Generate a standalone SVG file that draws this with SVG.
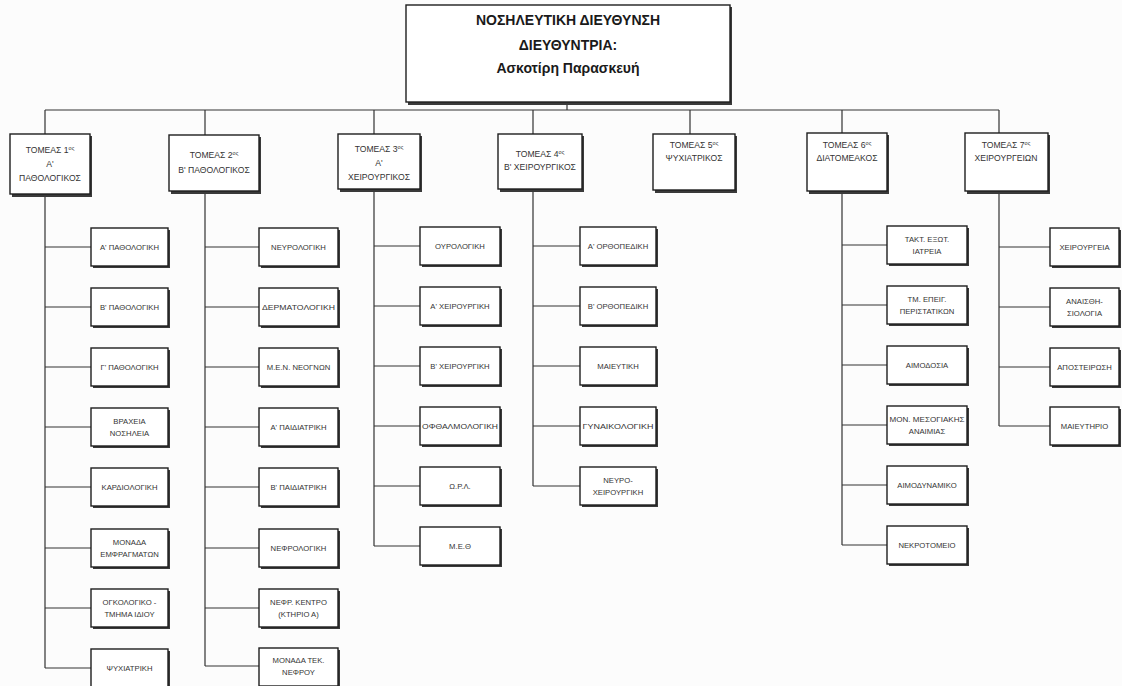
<svg xmlns="http://www.w3.org/2000/svg" width="1122" height="686" viewBox="0 0 1122 686">
<style>
.bg{fill:#fcfcfc}
.box{fill:#ffffff;stroke:#1e1e1e;stroke-width:1.4}
.sh{fill:#3a3a3a}
.t{font-family:"Liberation Sans",Arial,sans-serif;font-size:7.7px;fill:#333;text-anchor:middle}
.s{font-family:"Liberation Sans",Arial,sans-serif;font-size:8.6px;fill:#333;text-anchor:middle}
.h{font-family:"Liberation Sans",Arial,sans-serif;font-size:14px;font-weight:bold;fill:#1a1a1a;text-anchor:middle}
.sup{font-size:5.5px}
.ln{stroke:#333;stroke-width:1.2;fill:none}
</style>
<rect class="bg" x="0" y="0" width="1122" height="686"/>
<g id="connectors">
<path class="ln" d="M567 103V110M45 110H999M45 110V134M205 110V135M374 110V134M533 110V134M690 110V134M842 110V133M999 110V133"/>
<path class="ln" d="M45 195V668M45 247H91M45 307H91M45 367H91M45 427H91M45 487H91M45 548H91M45 608H91M45 668H91"/>
<path class="ln" d="M205 192V666M205 247H259M205 307H259M205 367H259M205 427H259M205 487H259M205 548H259M205 608H259M205 666H259"/>
<path class="ln" d="M374 190V546M374 246H420M374 306H420M374 366H420M374 426H420M374 486H420M374 546H420"/>
<path class="ln" d="M533 190V486M533 246H580M533 306H580M533 366H580M533 426H580M533 486H580"/>
<path class="ln" d="M842 192V545M842 245H887M842 305H887M842 365H887M842 425H887M842 485H887M842 545H887"/>
<path class="ln" d="M999 192V426M999 247H1050M999 307H1050M999 367H1050M999 426H1050"/>
</g>
<g id="director">
<rect class="sh" x="408" y="7" width="324" height="98"/>
<rect class="box" x="406" y="5" width="324" height="97"/>
<text class="h" x="568" y="25">ΝΟΣΗΛΕΥΤΙΚΗ ΔΙΕΥΘΥΝΣΗ</text>
<text class="h" x="568" y="50">ΔΙΕΥΘΥΝΤΡΙΑ:</text>
<text class="h" x="568" y="73">Ασκοτίρη Παρασκευή</text>
</g>
<g id="sector1">
<rect class="sh" x="12" y="136" width="80" height="61"/>
<rect class="box" x="10" y="134" width="80" height="60"/>
<text class="s" x="50" y="153">ΤΟΜΕΑΣ 1<tspan class="sup" dy="-3">ος</tspan></text>
<text class="s" x="50" y="167">Α'</text>
<text class="s" x="50" y="181">ΠΑΘΟΛΟΓΙΚΟΣ</text>
</g>
<g id="sector2">
<rect class="sh" x="171" y="137" width="90" height="57"/>
<rect class="box" x="169" y="135" width="90" height="56"/>
<text class="s" x="214" y="158">ΤΟΜΕΑΣ 2<tspan class="sup" dy="-3">ος</tspan></text>
<text class="s" x="214" y="173">Β' ΠΑΘΟΛΟΓΙΚΟΣ</text>
</g>
<g id="sector3">
<rect class="sh" x="340" y="136" width="82" height="56"/>
<rect class="box" x="338" y="134" width="82" height="55"/>
<text class="s" x="379" y="152">ΤΟΜΕΑΣ 3<tspan class="sup" dy="-3">ος</tspan></text>
<text class="s" x="379" y="166">Α'</text>
<text class="s" x="379" y="180">ΧΕΙΡΟΥΡΓΙΚΟΣ</text>
</g>
<g id="sector4">
<rect class="sh" x="500" y="136" width="84" height="56"/>
<rect class="box" x="498" y="134" width="84" height="55"/>
<text class="s" x="540" y="157">ΤΟΜΕΑΣ 4<tspan class="sup" dy="-3">ος</tspan></text>
<text class="s" x="540" y="170">Β' ΧΕΙΡΟΥΡΓΙΚΟΣ</text>
</g>
<g id="sector5">
<rect class="sh" x="655" y="136" width="82" height="57"/>
<rect class="box" x="653" y="134" width="82" height="56"/>
<text class="s" x="694" y="148">ΤΟΜΕΑΣ 5<tspan class="sup" dy="-3">ος</tspan></text>
<text class="s" x="694" y="161">ΨΥΧΙΑΤΡΙΚΟΣ</text>
</g>
<g id="sector6">
<rect class="sh" x="809" y="135" width="80" height="59"/>
<rect class="box" x="807" y="133" width="80" height="58"/>
<text class="s" x="847" y="148">ΤΟΜΕΑΣ 6<tspan class="sup" dy="-3">ος</tspan></text>
<text class="s" x="847" y="161">ΔΙΑΤΟΜΕΑΚΟΣ</text>
</g>
<g id="sector7">
<rect class="sh" x="967" y="135" width="83" height="59"/>
<rect class="box" x="965" y="133" width="83" height="58"/>
<text class="s" x="1006" y="148">ΤΟΜΕΑΣ 7<tspan class="sup" dy="-3">ος</tspan></text>
<text class="s" x="1006" y="161">ΧΕΙΡΟΥΡΓΕΙΩΝ</text>
</g>
<g id="c1-1"><rect class="sh" x="93" y="230" width="77" height="38"/><rect class="box" x="91" y="228" width="77" height="38"/><text class="t" x="129.5" y="250">Α' ΠΑΘΟΛΟΓΙΚΗ</text></g>
<g id="c1-2"><rect class="sh" x="93" y="290" width="77" height="38"/><rect class="box" x="91" y="288" width="77" height="38"/><text class="t" x="129.5" y="310">Β' ΠΑΘΟΛΟΓΙΚΗ</text></g>
<g id="c1-3"><rect class="sh" x="93" y="350" width="77" height="38"/><rect class="box" x="91" y="348" width="77" height="38"/><text class="t" x="129.5" y="370">Γ' ΠΑΘΟΛΟΓΙΚΗ</text></g>
<g id="c1-4"><rect class="sh" x="93" y="410" width="77" height="38"/><rect class="box" x="91" y="408" width="77" height="38"/><text class="t" x="129.5" y="424">ΒΡΑΧΕΙΑ</text><text class="t" x="129.5" y="436">ΝΟΣΗΛΕΙΑ</text></g>
<g id="c1-5"><rect class="sh" x="93" y="470" width="77" height="38"/><rect class="box" x="91" y="468" width="77" height="38"/><text class="t" x="129.5" y="490">ΚΑΡΔΙΟΛΟΓΙΚΗ</text></g>
<g id="c1-6"><rect class="sh" x="93" y="531" width="77" height="38"/><rect class="box" x="91" y="529" width="77" height="38"/><text class="t" x="129.5" y="545">ΜΟΝΑΔΑ</text><text class="t" x="129.5" y="557">ΕΜΦΡΑΓΜΑΤΩΝ</text></g>
<g id="c1-7"><rect class="sh" x="93" y="591" width="77" height="38"/><rect class="box" x="91" y="589" width="77" height="38"/><text class="t" x="129.5" y="605">ΟΓΚΟΛΟΓΙΚΟ -</text><text class="t" x="129.5" y="617">ΤΜΗΜΑ ΙΔΙΟΥ</text></g>
<g id="c1-8"><rect class="sh" x="93" y="651" width="77" height="38"/><rect class="box" x="91" y="649" width="77" height="38"/><text class="t" x="129.5" y="671">ΨΥΧΙΑΤΡΙΚΗ</text></g>
<g id="c2-1"><rect class="sh" x="261" y="230" width="79" height="38"/><rect class="box" x="259" y="228" width="79" height="38"/><text class="t" x="298.5" y="250">ΝΕΥΡΟΛΟΓΙΚΗ</text></g>
<g id="c2-2"><rect class="sh" x="261" y="290" width="79" height="38"/><rect class="box" x="259" y="288" width="79" height="38"/><text class="t" x="298.5" y="310" textLength="73" lengthAdjust="spacingAndGlyphs">ΔΕΡΜΑΤΟΛΟΓΙΚΗ</text></g>
<g id="c2-3"><rect class="sh" x="261" y="350" width="79" height="38"/><rect class="box" x="259" y="348" width="79" height="38"/><text class="t" x="298.5" y="370">Μ.Ε.Ν. ΝΕΟΓΝΩΝ</text></g>
<g id="c2-4"><rect class="sh" x="261" y="410" width="79" height="38"/><rect class="box" x="259" y="408" width="79" height="38"/><text class="t" x="298.5" y="430">Α' ΠΑΙΔΙΑΤΡΙΚΗ</text></g>
<g id="c2-5"><rect class="sh" x="261" y="470" width="79" height="38"/><rect class="box" x="259" y="468" width="79" height="38"/><text class="t" x="298.5" y="490">Β' ΠΑΙΔΙΑΤΡΙΚΗ</text></g>
<g id="c2-6"><rect class="sh" x="261" y="531" width="79" height="38"/><rect class="box" x="259" y="529" width="79" height="38"/><text class="t" x="298.5" y="551">ΝΕΦΡΟΛΟΓΙΚΗ</text></g>
<g id="c2-7"><rect class="sh" x="261" y="591" width="79" height="38"/><rect class="box" x="259" y="589" width="79" height="38"/><text class="t" x="298.5" y="605">ΝΕΦΡ. ΚΕΝΤΡΟ</text><text class="t" x="298.5" y="617">(ΚΤΗΡΙΟ Α)</text></g>
<g id="c2-8"><rect class="sh" x="261" y="650" width="79" height="38"/><rect class="box" x="259" y="648" width="79" height="38"/><text class="t" x="298.5" y="663">ΜΟΝΑΔΑ ΤΕΚ.</text><text class="t" x="298.5" y="675">ΝΕΦΡΟΥ</text></g>
<g id="c3-1"><rect class="sh" x="422" y="229" width="80" height="38"/><rect class="box" x="420" y="227" width="80" height="38"/><text class="t" x="460" y="249">ΟΥΡΟΛΟΓΙΚΗ</text></g>
<g id="c3-2"><rect class="sh" x="422" y="289" width="80" height="38"/><rect class="box" x="420" y="287" width="80" height="38"/><text class="t" x="460" y="309">Α' ΧΕΙΡΟΥΡΓΙΚΗ</text></g>
<g id="c3-3"><rect class="sh" x="422" y="349" width="80" height="38"/><rect class="box" x="420" y="347" width="80" height="38"/><text class="t" x="460" y="369">Β' ΧΕΙΡΟΥΡΓΙΚΗ</text></g>
<g id="c3-4"><rect class="sh" x="422" y="409" width="80" height="38"/><rect class="box" x="420" y="407" width="80" height="38"/><text class="t" x="460" y="429" textLength="76" lengthAdjust="spacingAndGlyphs">ΟΦΘΑΛΜΟΛΟΓΙΚΗ</text></g>
<g id="c3-5"><rect class="sh" x="422" y="469" width="80" height="38"/><rect class="box" x="420" y="467" width="80" height="38"/><text class="t" x="460" y="489">Ω.Ρ.Λ.</text></g>
<g id="c3-6"><rect class="sh" x="422" y="529" width="80" height="38"/><rect class="box" x="420" y="527" width="80" height="38"/><text class="t" x="460" y="549">Μ.Ε.Θ</text></g>
<g id="c4-1"><rect class="sh" x="582" y="229" width="76" height="38"/><rect class="box" x="580" y="227" width="76" height="38"/><text class="t" x="618" y="249">Α' ΟΡΘΟΠΕΔΙΚΗ</text></g>
<g id="c4-2"><rect class="sh" x="582" y="289" width="76" height="38"/><rect class="box" x="580" y="287" width="76" height="38"/><text class="t" x="618" y="309">Β' ΟΡΘΟΠΕΔΙΚΗ</text></g>
<g id="c4-3"><rect class="sh" x="582" y="349" width="76" height="38"/><rect class="box" x="580" y="347" width="76" height="38"/><text class="t" x="618" y="369">ΜΑΙΕΥΤΙΚΗ</text></g>
<g id="c4-4"><rect class="sh" x="582" y="409" width="76" height="38"/><rect class="box" x="580" y="407" width="76" height="38"/><text class="t" x="618" y="429" textLength="71" lengthAdjust="spacingAndGlyphs">ΓΥΝΑΙΚΟΛΟΓΙΚΗ</text></g>
<g id="c4-5"><rect class="sh" x="582" y="469" width="76" height="38"/><rect class="box" x="580" y="467" width="76" height="38"/><text class="t" x="618" y="483">ΝΕΥΡΟ-</text><text class="t" x="618" y="495">ΧΕΙΡΟΥΡΓΙΚΗ</text></g>
<g id="c6-1"><rect class="sh" x="889" y="228" width="80" height="38"/><rect class="box" x="887" y="226" width="80" height="38"/><text class="t" x="927" y="242">ΤΑΚΤ. ΕΞΩΤ.</text><text class="t" x="927" y="254">ΙΑΤΡΕΙΑ</text></g>
<g id="c6-2"><rect class="sh" x="889" y="288" width="80" height="38"/><rect class="box" x="887" y="286" width="80" height="38"/><text class="t" x="927" y="302">ΤΜ. ΕΠΕΙΓ.</text><text class="t" x="927" y="314">ΠΕΡΙΣΤΑΤΙΚΩΝ</text></g>
<g id="c6-3"><rect class="sh" x="889" y="348" width="80" height="38"/><rect class="box" x="887" y="346" width="80" height="38"/><text class="t" x="927" y="368">ΑΙΜΟΔΟΣΙΑ</text></g>
<g id="c6-4"><rect class="sh" x="889" y="408" width="80" height="38"/><rect class="box" x="887" y="406" width="80" height="38"/><text class="t" x="927" y="422" textLength="75" lengthAdjust="spacingAndGlyphs">ΜΟΝ. ΜΕΣΟΓΙΑΚΗΣ</text><text class="t" x="927" y="434">ΑΝΑΙΜΙΑΣ</text></g>
<g id="c6-5"><rect class="sh" x="889" y="468" width="80" height="38"/><rect class="box" x="887" y="466" width="80" height="38"/><text class="t" x="927" y="488">ΑΙΜΟΔΥΝΑΜΙΚΟ</text></g>
<g id="c6-6"><rect class="sh" x="889" y="528" width="80" height="38"/><rect class="box" x="887" y="526" width="80" height="38"/><text class="t" x="927" y="548">ΝΕΚΡΟΤΟΜΕΙΟ</text></g>
<g id="c7-1"><rect class="sh" x="1052" y="230" width="69" height="38"/><rect class="box" x="1050" y="228" width="69" height="38"/><text class="t" x="1084.5" y="250">ΧΕΙΡΟΥΡΓΕΙΑ</text></g>
<g id="c7-2"><rect class="sh" x="1052" y="290" width="69" height="38"/><rect class="box" x="1050" y="288" width="69" height="38"/><text class="t" x="1084.5" y="304">ΑΝΑΙΣΘΗ-</text><text class="t" x="1084.5" y="316">ΣΙΟΛΟΓΙΑ</text></g>
<g id="c7-3"><rect class="sh" x="1052" y="350" width="69" height="38"/><rect class="box" x="1050" y="348" width="69" height="38"/><text class="t" x="1084.5" y="370">ΑΠΟΣΤΕΙΡΩΣΗ</text></g>
<g id="c7-4"><rect class="sh" x="1052" y="409" width="69" height="38"/><rect class="box" x="1050" y="407" width="69" height="38"/><text class="t" x="1084.5" y="429">ΜΑΙΕΥΤΗΡΙΟ</text></g>
</svg>
